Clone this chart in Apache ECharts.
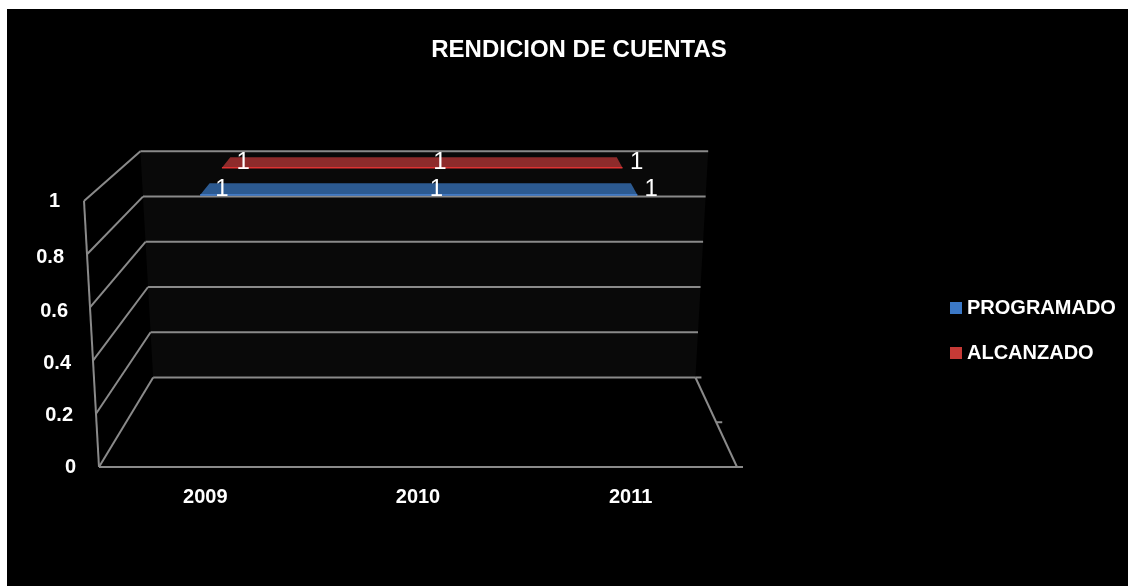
<!DOCTYPE html>
<html><head><meta charset="utf-8">
<script src="https://cdn.jsdelivr.net/npm/echarts@6/dist/echarts.min.js"></script>
<style>
html,body{margin:0;padding:0;background:#fff;width:1128px;height:586px;overflow:hidden}
#bg{position:absolute;left:7px;top:9px;width:1121px;height:577px;background:#000}
#c{position:absolute;left:0;top:0;width:1128px;height:586px}
</style>
</head><body><div id="bg"></div><div id="c"></div>
<script>
const titleText = 'RENDICION DE CUENTAS';
const categories = ['2009', '2010', '2011'];
const seriesNames = ['PROGRAMADO', 'ALCANZADO'];
const programado = [1, 1, 1];
const alcanzado = [1, 1, 1];
const yTicks = [0, 0.2, 0.4, 0.6, 0.8, 1];

const FONT = '"Liberation Sans Narrow","Arial Narrow","Liberation Sans",Arial,sans-serif';
const KEY = 0.047;     // perspective widening toward the top
const SHRINK = 0.15;   // size reduction at the back wall
const X_MIN = -0.5, X_MAX = categories.length - 0.5;

function project(api, x, v, w) {
  const p = api.coord([x, v]);
  const c = api.coord([(categories.length - 1) / 2, 0]);
  const top = api.coord([0, 1])[1], bottom = api.coord([0, 0])[1];
  const x1 = c[0] + (p[0] - c[0]) * (1 + KEY * v);
  const vx = c[0] + 42, vy = top - 1.244 * (bottom - top);
  const s = 1 - SHRINK * w;
  return [vx + s * (x1 - vx), vy + s * (p[1] - vy)];
}

const LINE = { stroke: '#8a8a8a', lineWidth: 2 };

function frameRender(params, api) {
  const v = api.value(1);
  const children = [];
  const bl = project(api, X_MIN, v, 1), br = project(api, X_MAX, v, 1);
  const fl = project(api, X_MIN, v, 0);
  if (params.dataIndex === 0) {
    const b0l = project(api, X_MIN, 0, 1), b0r = project(api, X_MAX, 0, 1);
    const b1l = project(api, X_MIN, 1, 1), b1r = project(api, X_MAX, 1, 1);
    children.push({ type: 'polygon', z2: -1, shape: { points: [b0l, b0r, b1r, b1l] }, style: { fill: '#090909' } });
    const f0l = project(api, X_MIN, 0, 0), f1l = project(api, X_MIN, 1, 0), f0r = project(api, X_MAX, 0, 0);
    children.push({ type: 'line', shape: { x1: f0l[0], y1: f0l[1], x2: f1l[0], y2: f1l[1] }, style: LINE });
    children.push({ type: 'line', shape: { x1: f0l[0], y1: f0l[1], x2: f0r[0], y2: f0r[1] }, style: LINE });
    children.push({ type: 'line', shape: { x1: f0r[0], y1: f0r[1], x2: b0r[0], y2: b0r[1] }, style: LINE });
    [0, 0.5, 1].forEach(function (w) {
      const t = project(api, X_MAX, 0, w);
      children.push({ type: 'line', shape: { x1: t[0], y1: t[1], x2: t[0] + 6, y2: t[1] }, style: LINE });
    });
  }
  children.push({ type: 'line', shape: { x1: bl[0], y1: bl[1], x2: br[0], y2: br[1] }, style: LINE });
  children.push({ type: 'line', shape: { x1: fl[0], y1: fl[1], x2: bl[0], y2: bl[1] }, style: LINE });
  return { type: 'group', children: children };
}

function ribbonRender(values, wf, wb, fill, edge) {
  return function (params, api) {
    const i = params.dataIndex;
    const v = api.value(1);
    const children = [];
    if (i === 0) {
      const front = [], back = [];
      for (let k = 0; k < values.length; k++) {
        front.push(project(api, k, values[k], wf));
        back.push(project(api, k, values[k], wb));
      }
      children.push({ type: 'polygon', shape: { points: front.concat(back.slice().reverse()) }, style: { fill: fill } });
      children.push({ type: 'polyline', shape: { points: front }, style: { stroke: edge, lineWidth: 1.5, fill: null } });
    }
    const m = project(api, i, v, (wf + wb) / 2);
    children.push({ type: 'text', z2: 10, x: m[0] + 17, y: m[1],
      style: { text: String(v), fill: '#fff', fontSize: 24, fontFamily: FONT, align: 'center', verticalAlign: 'middle' } });
    return { type: 'group', children: children };
  };
}

const padR = [0, 3, 5, 8, 12, 16];
const padT = [0, 4, 6, 8, 6, 0];
const rich = {};
yTicks.forEach(function (t, i) {
  rich['l' + i] = { color: '#fff', fontWeight: 'bold', fontSize: 20, fontFamily: FONT, padding: [padT[i], padR[i], 0, 0] };
});

const chart = echarts.init(document.getElementById('c'), null, { renderer: 'canvas' });
chart.setOption({
  backgroundColor: 'transparent',
  animation: false,
  title: { text: titleText, left: 574, textAlign: 'center', top: 33,
    textStyle: { color: '#fff', fontWeight: 'bold', fontSize: 24, fontFamily: FONT } },
  legend: { orient: 'vertical', left: 945, top: 293, itemWidth: 12, itemHeight: 12, itemGap: 25, icon: 'rect',
    data: seriesNames,
    textStyle: { color: '#fff', fontWeight: 'bold', fontSize: 20, fontFamily: FONT } },
  grid: { left: 99, right: 391, top: 201, bottom: 119 },
  xAxis: [
    { type: 'category', data: categories, axisLine: { show: false }, axisTick: { show: false },
      axisLabel: { color: '#fff', fontWeight: 'bold', fontSize: 20, fontFamily: FONT, margin: 20 } },
    { type: 'value', min: X_MIN, max: X_MAX, show: false }
  ],
  yAxis: { type: 'value', min: 0, max: 1, interval: 0.2, splitLine: { show: false },
    axisLine: { show: false }, axisTick: { show: false },
    axisLabel: { margin: 23, formatter: function (val, idx) { return '{l' + idx + '|' + val + '}'; }, rich: rich } },
  series: [
    { type: 'custom', name: 'frame', xAxisIndex: 1, renderItem: frameRender, silent: true, z: 1,
      data: yTicks.map(function (t) { return [X_MIN, t]; }) },
    { type: 'custom', name: seriesNames[1], xAxisIndex: 1, z: 3,
      itemStyle: { color: '#c63a36' },
      renderItem: ribbonRender(alcanzado, 0.67, 0.88, '#8e2b2b', '#e03232'),
      data: alcanzado.map(function (v, i) { return [i, v]; }) },
    { type: 'custom', name: seriesNames[0], xAxisIndex: 1, z: 4,
      itemStyle: { color: '#3b78c6' },
      renderItem: ribbonRender(programado, 0.12, 0.36, '#2c5a91', '#4a86d6'),
      data: programado.map(function (v, i) { return [i, v]; }) }
  ]
});
</script>
</body></html>
